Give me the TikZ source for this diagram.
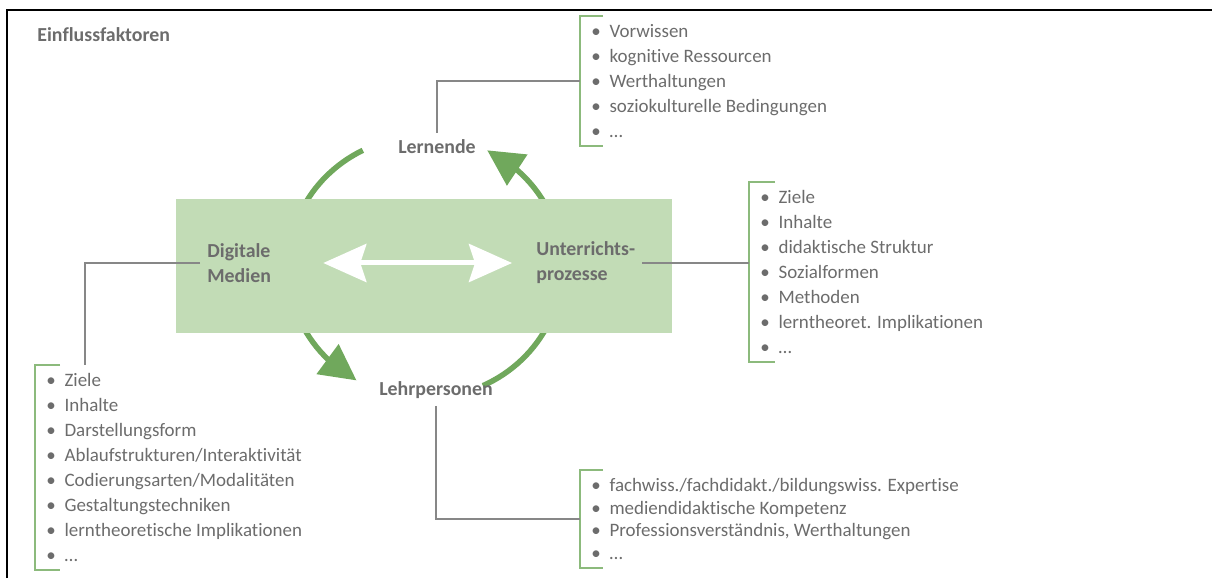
\documentclass[tikz,border=0pt]{standalone}
\usepackage{fontspec}
\setmainfont{Carlito}[Ligatures=NoCommon]
\usetikzlibrary{arrows.meta,bending,calc,positioning}
\definecolor{textgrau}{RGB}{108,108,108}
\definecolor{liniengrau}{RGB}{135,135,135}
\definecolor{feldgruen}{RGB}{194,220,182}
\definecolor{bogengruen}{RGB}{112,168,92}
\definecolor{klammergruen}{RGB}{140,186,124}
\newcommand{\lpunkt}{\textbullet\hspace{5pt}}
\tikzset{
         titel/.style={font=\fontsize{11.3pt}{13pt}\selectfont\bfseries, text=textgrau, inner sep=4pt},
         lbl/.style={font=\fontsize{11.3pt}{14.2pt}\selectfont\bfseries, text=textgrau, align=left, inner sep=4pt},
         liste/.style={anchor=north west, align=left, text=textgrau, inner xsep=0.22cm, inner ysep=0.16cm,
                       font=\fontsize{10.8pt}{14.2pt}\selectfont},
         klammer/.style={draw=klammergruen, line width=1.1pt},
         verbinder/.style={draw=liniengrau, line width=0.9pt},
         bogen/.style={draw=bogengruen, line width=0.11cm},
         bogenpfeil/.style={bogen, -{Triangle[length=0.72cm,width=0.72cm,flex]}},
         doppelpfeil/.style={draw=white, line width=0.1cm,
                             {Stealth[length=0.86cm,width=0.76cm,inset=0.12cm]}-{Stealth[length=0.86cm,width=0.76cm,inset=0.12cm]}},
         feld/.style={fill=feldgruen}
        }

\begin{document}
\begin{tikzpicture}[x=0.02cm,y=0.02cm]
      \useasboundingbox (0,0) rectangle (1212,578);
      \draw[line width=1.5pt] (7,0) -- (7,568) -- (1212,568); % frame
      \node[titel,anchor=west] (titel) at (30,543) {Einflussfaktoren}; % title

      \coordinate (mitte) at (425,311); % centre of the cycle
      \draw[bogen] ([shift={(155:2.74cm and 2.62cm)}]mitte) arc[start angle=155,end angle=117,x radius=2.74cm,y radius=2.62cm]; % upper left arc
      \draw[bogenpfeil] ([shift={(25:2.74cm and 2.62cm)}]mitte) arc[start angle=25,end angle=63,x radius=2.74cm,y radius=2.62cm]; % upper right arc
      \draw[bogenpfeil] ([shift={(205:2.74cm and 2.62cm)}]mitte) arc[start angle=205,end angle=240,x radius=2.74cm,y radius=2.62cm]; % lower left arc
      \draw[bogen] ([shift={(-25:2.74cm and 2.62cm)}]mitte) arc[start angle=-25,end angle=-65,x radius=2.74cm,y radius=2.62cm]; % lower right arc

      \fill[feld] (176,245) rectangle (672,379); % green field

      \node[lbl,anchor=west] (digital) at (200,315) {Digitale\\Medien}; % Digitale Medien label
      \node[lbl,anchor=west] (unter) at (529,315) {Unterrichts-\\prozesse}; % Unterrichtsprozesse label
      \node[lbl] (lern) at (437,431) {Lernende}; % Lernende label
      \node[lbl] (lehr) at (436,188) {Lehrpersonen}; % Lehrpersonen label
      \draw[doppelpfeil,shorten <=0.9cm,shorten >=0.34cm] (digital.east) -- (unter.west); % white arrow

      \node[liste] (lernL) at (580,562) {\lpunkt Vorwissen\\\lpunkt kognitive Ressourcen\\\lpunkt Werthaltungen\\\lpunkt soziokulturelle Bedingungen\\\lpunkt\ldots}; % Lernende list
      \node[liste] (unterL) at (749,396) {\lpunkt Ziele\\\lpunkt Inhalte\\\lpunkt didaktische Struktur\\\lpunkt Sozialformen\\\lpunkt Methoden\\\lpunkt lerntheoret. Implikationen\\\lpunkt\ldots}; % Unterricht list
      \node[liste] (digitalL) at (35,213) {\lpunkt Ziele\\\lpunkt Inhalte\\\lpunkt Darstellungsform\\\lpunkt Ablaufstrukturen/Interaktivität\\\lpunkt Codierungsarten/Modalitäten\\\lpunkt Gestaltungstechniken\\\lpunkt lerntheoretische Implikationen\\\lpunkt\ldots}; % Medien list
      \node[liste,font=\fontsize{10.8pt}{12.9pt}\selectfont] (lehrL) at (580,108) {\lpunkt fachwiss./fachdidakt./bildungswiss. Expertise\\\lpunkt mediendidaktische Kompetenz\\\lpunkt Professionsverständnis, Werthaltungen\\\lpunkt\ldots}; % Lehrpersonen list

      \draw[klammer] ($(lernL.north west)+(23,0)$) -- (lernL.north west) -- (lernL.south west) -- ++(23,0); % bracket
      \draw[klammer] ($(unterL.north west)+(26,0)$) -- (unterL.north west) -- (unterL.south west) -- ++(26,0); % bracket
      \draw[klammer] ($(digitalL.north west)+(25,0)$) -- (digitalL.north west) -- (digitalL.south west) -- ++(25,0); % bracket
      \draw[klammer] ($(lehrL.north west)+(23,0)$) -- (lehrL.north west) -- (lehrL.south west) -- ++(23,0); % bracket

      \draw[verbinder] (lern.north) |- (lernL.west); % Wiring
      \draw[verbinder] (unter.east) -- (unter.east -| unterL.west); % Wiring
      \draw[verbinder] (digital.west) -| ($(digitalL.north west)+(50,0)$); % Wiring
      \draw[verbinder] (lehr.south) |- (lehrL.west); % Wiring
\end{tikzpicture}
\end{document}
